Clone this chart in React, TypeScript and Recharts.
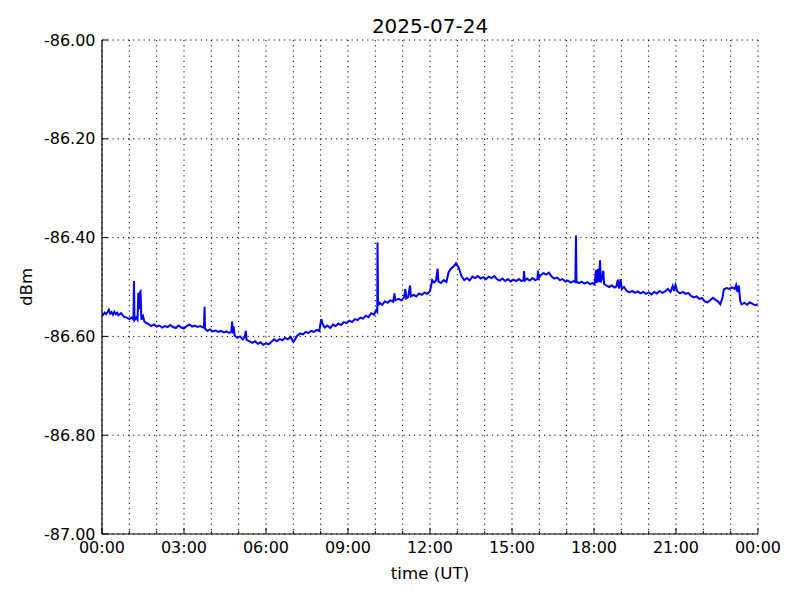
import React from 'react';
import { LineChart, Line, XAxis, YAxis, CartesianGrid } from 'recharts';

// [hour (UT), dBm]
const night: [number, number][] = [
  [0.00,-86.553],[0.05,-86.556],[0.10,-86.552],[0.15,-86.555],[0.20,-86.551],[0.25,-86.546],[0.30,-86.554],[0.35,-86.551],[0.40,-86.556],[0.45,-86.550],[0.50,-86.555],[0.55,-86.552],[0.60,-86.557],[0.70,-86.553],[0.80,-86.560],[0.90,-86.562],[1.00,-86.565],[1.08,-86.562],[1.15,-86.566],[1.17,-86.488],[1.19,-86.567],[1.25,-86.562],[1.30,-86.566],[1.33,-86.512],[1.36,-86.545],[1.38,-86.511],[1.41,-86.509],[1.44,-86.566],[1.50,-86.559],[1.55,-86.570],[1.60,-86.572],[1.70,-86.575],[1.80,-86.579],[1.90,-86.576],[2.00,-86.580],[2.10,-86.578],[2.20,-86.582],[2.30,-86.579],[2.40,-86.581],[2.50,-86.577],[2.60,-86.581],[2.70,-86.583],[2.80,-86.578],[2.90,-86.582],[3.00,-86.584],[3.10,-86.579],[3.20,-86.576],[3.30,-86.580],[3.40,-86.578],[3.50,-86.581],[3.60,-86.579],[3.70,-86.582],[3.73,-86.581],[3.75,-86.540],[3.77,-86.584],[3.85,-86.589],[3.95,-86.586],[4.05,-86.590],[4.15,-86.588],[4.25,-86.591],[4.35,-86.589],[4.45,-86.592],[4.55,-86.590],[4.65,-86.593],[4.73,-86.591],[4.76,-86.570],[4.79,-86.594],[4.82,-86.580],[4.85,-86.598],[4.95,-86.603],[5.05,-86.600],[5.15,-86.606],[5.22,-86.602],[5.26,-86.589],[5.29,-86.607],[5.40,-86.610],[5.50,-86.613],[5.60,-86.610],[5.70,-86.615],[5.80,-86.612],[5.90,-86.617],[6.00,-86.614],
];
const morning: [number, number][] = [
  [6.10,-86.616],[6.20,-86.611],[6.30,-86.606],[6.40,-86.610],[6.50,-86.605],[6.60,-86.608],[6.70,-86.603],[6.80,-86.606],[6.90,-86.601],[7.00,-86.611],[7.05,-86.607],[7.15,-86.598],[7.25,-86.594],[7.35,-86.596],[7.45,-86.591],[7.55,-86.593],[7.65,-86.589],[7.75,-86.591],[7.85,-86.587],[7.95,-86.589],[8.02,-86.565],[8.08,-86.576],[8.15,-86.582],[8.25,-86.578],[8.35,-86.583],[8.45,-86.576],[8.55,-86.579],[8.65,-86.574],[8.75,-86.577],[8.85,-86.571],[8.95,-86.573],[9.05,-86.568],[9.15,-86.571],[9.25,-86.565],[9.35,-86.567],[9.45,-86.562],[9.55,-86.564],[9.65,-86.558],[9.75,-86.561],[9.85,-86.553],[9.95,-86.556],[10.03,-86.547],[10.07,-86.550],[10.08,-86.410],[10.10,-86.538],[10.15,-86.532],[10.25,-86.536],[10.35,-86.529],[10.45,-86.532],[10.55,-86.527],[10.65,-86.530],[10.70,-86.513],[10.73,-86.527],[10.85,-86.524],[10.95,-86.527],[11.05,-86.521],[11.10,-86.504],[11.13,-86.523],[11.20,-86.520],[11.27,-86.497],[11.30,-86.519],[11.40,-86.516],[11.50,-86.519],[11.60,-86.513],[11.70,-86.516],[11.80,-86.511],[11.90,-86.514],[12.00,-86.508],
];
const afternoon: [number, number][] = [
  [12.05,-86.495],[12.08,-86.486],[12.15,-86.491],[12.22,-86.487],[12.28,-86.463],[12.31,-86.489],[12.40,-86.492],[12.50,-86.486],[12.60,-86.490],[12.68,-86.470],[12.75,-86.464],[12.85,-86.459],[12.95,-86.452],[13.05,-86.461],[13.15,-86.478],[13.25,-86.486],[13.35,-86.482],[13.45,-86.487],[13.55,-86.479],[13.65,-86.482],[13.75,-86.478],[13.85,-86.483],[13.95,-86.480],[14.05,-86.484],[14.15,-86.479],[14.25,-86.482],[14.35,-86.478],[14.45,-86.484],[14.55,-86.487],[14.65,-86.483],[14.75,-86.488],[14.85,-86.484],[14.95,-86.489],[15.05,-86.485],[15.15,-86.488],[15.25,-86.484],[15.35,-86.488],[15.42,-86.486],[15.44,-86.468],[15.47,-86.487],[15.55,-86.483],[15.65,-86.487],[15.75,-86.482],[15.85,-86.486],[15.93,-86.484],[15.95,-86.467],[15.98,-86.482],[16.05,-86.476],[16.15,-86.472],[16.25,-86.475],[16.35,-86.471],[16.45,-86.479],[16.55,-86.483],[16.65,-86.481],[16.75,-86.486],[16.85,-86.484],[16.95,-86.489],[17.05,-86.487],[17.15,-86.491],[17.25,-86.488],[17.32,-86.490],[17.34,-86.396],[17.36,-86.489],[17.45,-86.492],[17.55,-86.489],[17.65,-86.493],[17.75,-86.490],[17.85,-86.494],[17.95,-86.492],[18.02,-86.495],
];
const evening: [number, number][] = [
  [18.07,-86.466],[18.10,-86.492],[18.14,-86.463],[18.18,-86.490],[18.22,-86.446],[18.25,-86.491],[18.30,-86.480],[18.34,-86.467],[18.37,-86.494],[18.45,-86.497],[18.55,-86.500],[18.65,-86.497],[18.75,-86.501],[18.82,-86.499],[18.87,-86.485],[18.92,-86.503],[18.97,-86.484],[19.02,-86.504],[19.10,-86.500],[19.20,-86.508],[19.30,-86.511],[19.40,-86.508],[19.50,-86.512],[19.60,-86.509],[19.70,-86.513],[19.80,-86.510],[19.90,-86.514],[20.00,-86.511],[20.10,-86.515],[20.20,-86.510],[20.30,-86.513],[20.40,-86.508],[20.50,-86.512],[20.60,-86.509],[20.70,-86.504],[20.80,-86.510],[20.88,-86.498],[20.93,-86.508],[20.98,-86.496],[21.05,-86.509],[21.15,-86.513],[21.25,-86.510],[21.35,-86.514],[21.45,-86.512],[21.55,-86.518],[21.65,-86.521],[21.75,-86.519],[21.85,-86.524],[21.95,-86.522],[22.05,-86.529],[22.15,-86.531],[22.25,-86.527],[22.35,-86.522],[22.45,-86.526],[22.55,-86.530],[22.62,-86.535],[22.70,-86.522],[22.75,-86.505],[22.85,-86.502],[22.95,-86.504],[23.05,-86.501],[23.15,-86.504],[23.20,-86.496],[23.25,-86.510],[23.30,-86.497],[23.35,-86.528],[23.40,-86.535],[23.50,-86.532],[23.60,-86.536],[23.70,-86.531],[23.80,-86.534],[23.90,-86.537],[24.00,-86.535],
];

const hourTicks = [0,1,2,3,4,5,6,7,8,9,10,11,12,13,14,15,16,17,18,19,20,21,22,23,24];
const dbmTicks = [-87.0, -86.8, -86.6, -86.4, -86.2, -86.0];
const title = '2025-07-24';
const xLabel = 'time (UT)';
const yLabel = 'dBm';

const data = [...night, ...morning, ...afternoon, ...evening].map(([t, v]) => ({ t, v }));

const FONT = 'DejaVu Sans';

const fmtHour = (h: number) => String(h % 24).padStart(2, '0') + ':00';

const BottomTick = (props: any) => {
  const { x, y, payload } = props;
  const h = payload.value as number;
  const major = h % 3 === 0;
  return (
    <g>
      <line x1={x} x2={x} y1={y} y2={y - (major ? 6 : 3)} stroke="#000" strokeWidth={1} />
      {major && (
        <text x={x} y={y + 19} textAnchor="middle" fontFamily={FONT} fontSize={16} fill="#000">
          {fmtHour(h)}
        </text>
      )}
    </g>
  );
};

const TopTick = (props: any) => {
  const { x, y, payload } = props;
  const h = payload.value as number;
  const major = h % 3 === 0;
  return <line x1={x} x2={x} y1={y} y2={y + (major ? 6 : 3)} stroke="#000" strokeWidth={1} />;
};

const LeftTick = (props: any) => {
  const { x, y, payload } = props;
  return (
    <g>
      <line x1={x} x2={x + 6} y1={y} y2={y} stroke="#000" strokeWidth={1} />
      <text x={x - 6.5} y={y + 5.5} textAnchor="end" fontFamily={FONT} fontSize={16} fill="#000">
        {(payload.value as number).toFixed(2)}
      </text>
    </g>
  );
};

const RightTick = (props: any) => {
  const { x, y } = props;
  return <line x1={x} x2={x - 6} y1={y} y2={y} stroke="#000" strokeWidth={1} />;
};

export default function App() {
  return (
    <div style={{ position: 'absolute', left: 0, top: 0, width: 800, height: 600, background: '#fff' }}>
      <LineChart
        width={800}
        height={600}
        data={data}
        margin={{ top: 40, right: 42, bottom: 0, left: 0 }}
      >
        <CartesianGrid stroke="#000" strokeDasharray="1.2 4" strokeWidth={1} />
        <XAxis
          dataKey="t"
          type="number"
          domain={[0, 24]}
          ticks={hourTicks}
          interval={0}
          height={66}
          tickSize={0}
          tickMargin={0}
          tick={<BottomTick />}
          axisLine={{ stroke: '#000', strokeWidth: 1.2 }}
          tickLine={false}
          allowDataOverflow
        />
        <XAxis
          xAxisId="top"
          orientation="top"
          dataKey="t"
          type="number"
          domain={[0, 24]}
          ticks={hourTicks}
          interval={0}
          height={0}
          tickSize={0}
          tickMargin={0}
          tick={<TopTick />}
          axisLine={{ stroke: '#000', strokeWidth: 1.2 }}
          tickLine={false}
        />
        <YAxis
          type="number"
          domain={[-87, -86]}
          ticks={dbmTicks}
          interval={0}
          width={102}
          tickSize={0}
          tickMargin={0}
          tick={<LeftTick />}
          axisLine={{ stroke: '#000', strokeWidth: 1.2 }}
          tickLine={false}
          allowDataOverflow
        />
        <YAxis
          yAxisId="right"
          orientation="right"
          type="number"
          domain={[-87, -86]}
          ticks={dbmTicks}
          interval={0}
          width={0}
          tickSize={0}
          tickMargin={0}
          tick={<RightTick />}
          axisLine={{ stroke: '#000', strokeWidth: 1.2 }}
          tickLine={false}
        />
        <Line
          type="linear"
          dataKey="v"
          stroke="#0000ff"
          strokeWidth={2}
          dot={false}
          activeDot={false}
          isAnimationActive={false}
        />
      </LineChart>
      <svg
        width={800}
        height={600}
        style={{ position: 'absolute', left: 0, top: 0, pointerEvents: 'none' }}
      >
        <text x={430} y={33} textAnchor="middle" fontFamily={FONT} fontSize={20} fill="#000">
          {title}
        </text>
        <text x={430} y={579} textAnchor="middle" fontFamily={FONT} fontSize={16.67} fill="#000">
          {xLabel}
        </text>
        <text
          x={0}
          y={0}
          transform="translate(32,287) rotate(-90)"
          textAnchor="middle"
          fontFamily={FONT}
          fontSize={16.67}
          fill="#000"
        >
          {yLabel}
        </text>
      </svg>
    </div>
  );
}
